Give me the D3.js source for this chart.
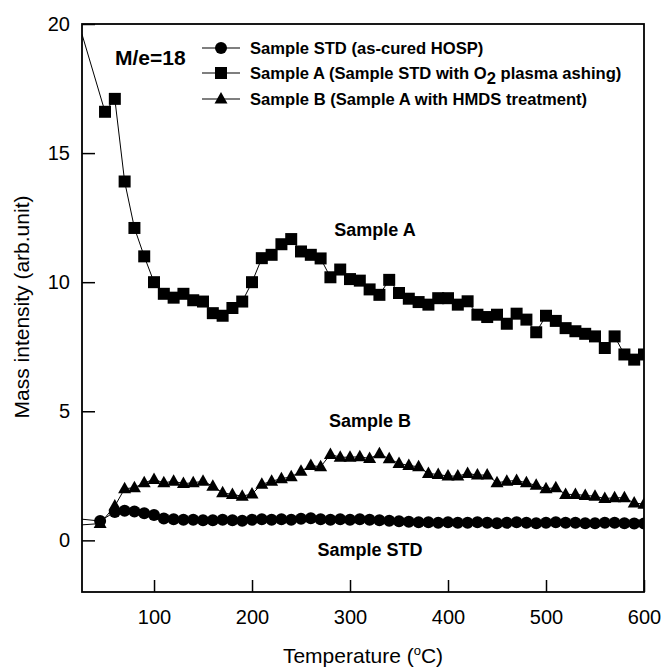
<!DOCTYPE html>
<html><head><meta charset="utf-8">
<script src="https://cdn.jsdelivr.net/npm/d3@7"></script>
<style>body{margin:0;background:#fff}svg{display:block}text{font-family:"Liberation Sans",Arial,sans-serif;fill:#000}</style>
</head><body>
<svg id="c" width="666" height="669"></svg>
<script>
// ---- data ----
const tempsA = [50,60,70,80,90,100,110,120,130,140,150,160,170,180,190,200,210,220,230,240,250,260,270,280,290,300,310,320,330,340,350,360,370,380,390,400,410,420,430,440,450,460,470,480,490,500,510,520,530,540,550,560,570,580,590,600];
const sampleA = [16.6,17.1,13.9,12.1,11.0,10.0,9.55,9.4,9.55,9.3,9.25,8.8,8.7,9.0,9.25,10.0,10.93,11.06,11.47,11.67,11.19,11.06,10.92,10.19,10.49,10.12,10.06,9.72,9.51,10.09,9.58,9.36,9.23,9.13,9.38,9.38,9.13,9.26,8.74,8.65,8.74,8.39,8.78,8.55,8.06,8.7,8.5,8.22,8.1,8.0,7.9,7.45,7.9,7.2,7.0,7.2];
const tempsBS = [45,60,70,80,90,100,110,120,130,140,150,160,170,180,190,200,210,220,230,240,250,260,270,280,290,300,310,320,330,340,350,360,370,380,390,400,410,420,430,440,450,460,470,480,490,500,510,520,530,540,550,560,570,580,590,600];
const sampleB = [0.65,1.33,2.0,2.04,2.23,2.36,2.23,2.29,2.2,2.23,2.29,2.1,1.84,1.78,1.71,1.8,2.17,2.29,2.39,2.46,2.68,2.9,2.85,3.33,3.22,3.22,3.24,3.17,3.35,3.16,2.98,2.9,2.85,2.59,2.55,2.49,2.49,2.59,2.53,2.53,2.23,2.29,2.32,2.23,2.13,2.0,2.04,1.78,1.78,1.74,1.71,1.62,1.65,1.65,1.45,1.4];
const sampleSTD = [0.75,1.1,1.15,1.12,1.05,0.98,0.85,0.82,0.8,0.8,0.78,0.78,0.8,0.78,0.76,0.8,0.82,0.8,0.82,0.8,0.84,0.86,0.82,0.8,0.82,0.8,0.82,0.8,0.78,0.76,0.74,0.72,0.7,0.7,0.68,0.7,0.68,0.68,0.7,0.68,0.66,0.68,0.7,0.68,0.66,0.68,0.7,0.68,0.68,0.66,0.66,0.68,0.68,0.66,0.65,0.65];
// unmarked line starts at the left edge of the frame
const leadT = 26.5;
const leadA = 19.6, leadB = 0.6, leadSTD = 0.82;
const xTicks = [100,200,300,400,500,600];
const yTicks = [0,5,10,15,20];
const legendLabels = ["Sample STD (as-cured HOSP)", "Sample A (Sample STD with O|2| plasma ashing)", "Sample B (Sample A with HMDS treatment)"];
const annotations = [{t:"Sample A", x:375, v:11.8},{t:"Sample B", x:370, v:4.4},{t:"Sample STD", x:370, v:-0.6}];

// ---- layout ----
const L=82, R=644, T=24, B=592;
const svg = d3.select("#c");
const x = d3.scaleLinear().domain([leadT,600]).range([L,R]);
const y = d3.scaleLinear().domain([-2,20]).range([B,T]);

const defs = svg.append("defs");
defs.append("clipPath").attr("id","clip").append("rect").attr("x",L).attr("y",T).attr("width",R-L).attr("height",B-T);

// axes
const ax = svg.append("g").attr("transform",`translate(0,${B})`)
  .call(d3.axisBottom(x).tickValues(xTicks).tickSizeInner(-12).tickSizeOuter(0).tickPadding(18).tickFormat(d3.format("d")));
const ay = svg.append("g").attr("transform",`translate(${L},0)`)
  .call(d3.axisLeft(y).tickValues(yTicks).tickSizeInner(-13).tickSizeOuter(0).tickPadding(12).tickFormat(d3.format("d")));
[ax,ay].forEach(g=>{
  g.select(".domain").remove();
  g.selectAll("line").attr("stroke","#000").attr("stroke-width",1.5);
  g.selectAll("text").attr("font-size",20).attr("font-family",'"Liberation Sans",Arial,sans-serif').attr("fill","#000");
});
ax.selectAll("text").attr("dy","0");
ax.selectAll("text").attr("y",32);
// frame
svg.append("rect").attr("x",L).attr("y",T).attr("width",R-L).attr("height",B-T)
  .attr("fill","none").attr("stroke","#000").attr("stroke-width",1.8);

// axis titles
const xt = svg.append("text").attr("x",(L+R)/2).attr("y",663).attr("text-anchor","middle").attr("font-size",21);
xt.append("tspan").text("Temperature (");
xt.append("tspan").attr("font-size",13).attr("dy",-8).text("o");
xt.append("tspan").attr("dy",8).text("C)");
svg.append("text").attr("transform","translate(29,307) rotate(-90)").attr("text-anchor","middle").attr("font-size",21).text("Mass intensity (arb.unit)");

// series
const plot = svg.append("g").attr("clip-path","url(#clip)");
function series(temps, vals, lead){
  const pts = [[leadT,lead]].concat(temps.map((t,i)=>[t,vals[i]]));
  plot.append("path").datum(pts).attr("fill","none").attr("stroke","#000").attr("stroke-width",1)
    .attr("d", d3.line().x(d=>x(d[0])).y(d=>y(d[1])));
  return temps.map((t,i)=>[t,vals[i]]);
}
const ptsA = series(tempsA, sampleA, leadA);
const ptsB = series(tempsBS, sampleB, leadB);
const ptsS = series(tempsBS, sampleSTD, leadSTD);

const sq = d3.symbol().type(d3.symbolSquare).size(144)();
const tri = "M0,-7L6.5,4.5L-6.5,4.5Z";
plot.selectAll(".ms").data(ptsS).join("circle").attr("cx",d=>x(d[0])).attr("cy",d=>y(d[1])).attr("r",6).attr("fill","#000");
plot.selectAll(".mb").data(ptsB).join("path").attr("d",tri).attr("transform",d=>`translate(${x(d[0])},${y(d[1])})`).attr("fill","#000");
plot.selectAll(".ma").data(ptsA).join("path").attr("d",sq).attr("transform",d=>`translate(${x(d[0])},${y(d[1])})`).attr("fill","#000");

// annotations
annotations.forEach(a=>{
  svg.append("text").attr("x",a.x).attr("y",y(a.v)).attr("text-anchor","middle").attr("font-size",18).attr("font-weight","bold").text(a.t);
});

// legend
svg.append("text").attr("x",115).attr("y",65).attr("font-size",21).attr("font-weight","bold").text("M/e=18");
const rowsY = [48,73,99];
const legMarks = [
  g=>g.append("circle").attr("r",6),
  g=>g.append("path").attr("d",sq),
  g=>g.append("path").attr("d",tri)
];
legendLabels.forEach((lab,i)=>{
  const g = svg.append("g").attr("transform",`translate(0,${rowsY[i]})`);
  g.append("line").attr("x1",202).attr("x2",240).attr("stroke","#000").attr("stroke-width",1.2);
  legMarks[i](g.append("g").attr("transform","translate(221,0)")).attr("fill","#000");
  const t = g.append("text").attr("x",250).attr("y",6).attr("font-size",16.6).attr("font-weight","bold");
  const parts = lab.split("|");
  parts.forEach((p,k)=>{
    const ts = t.append("tspan").text(p);
    if(k===1) ts.attr("dy",5);
    if(k===2) ts.attr("dy",-5);
  });
});
</script>
</body></html>
